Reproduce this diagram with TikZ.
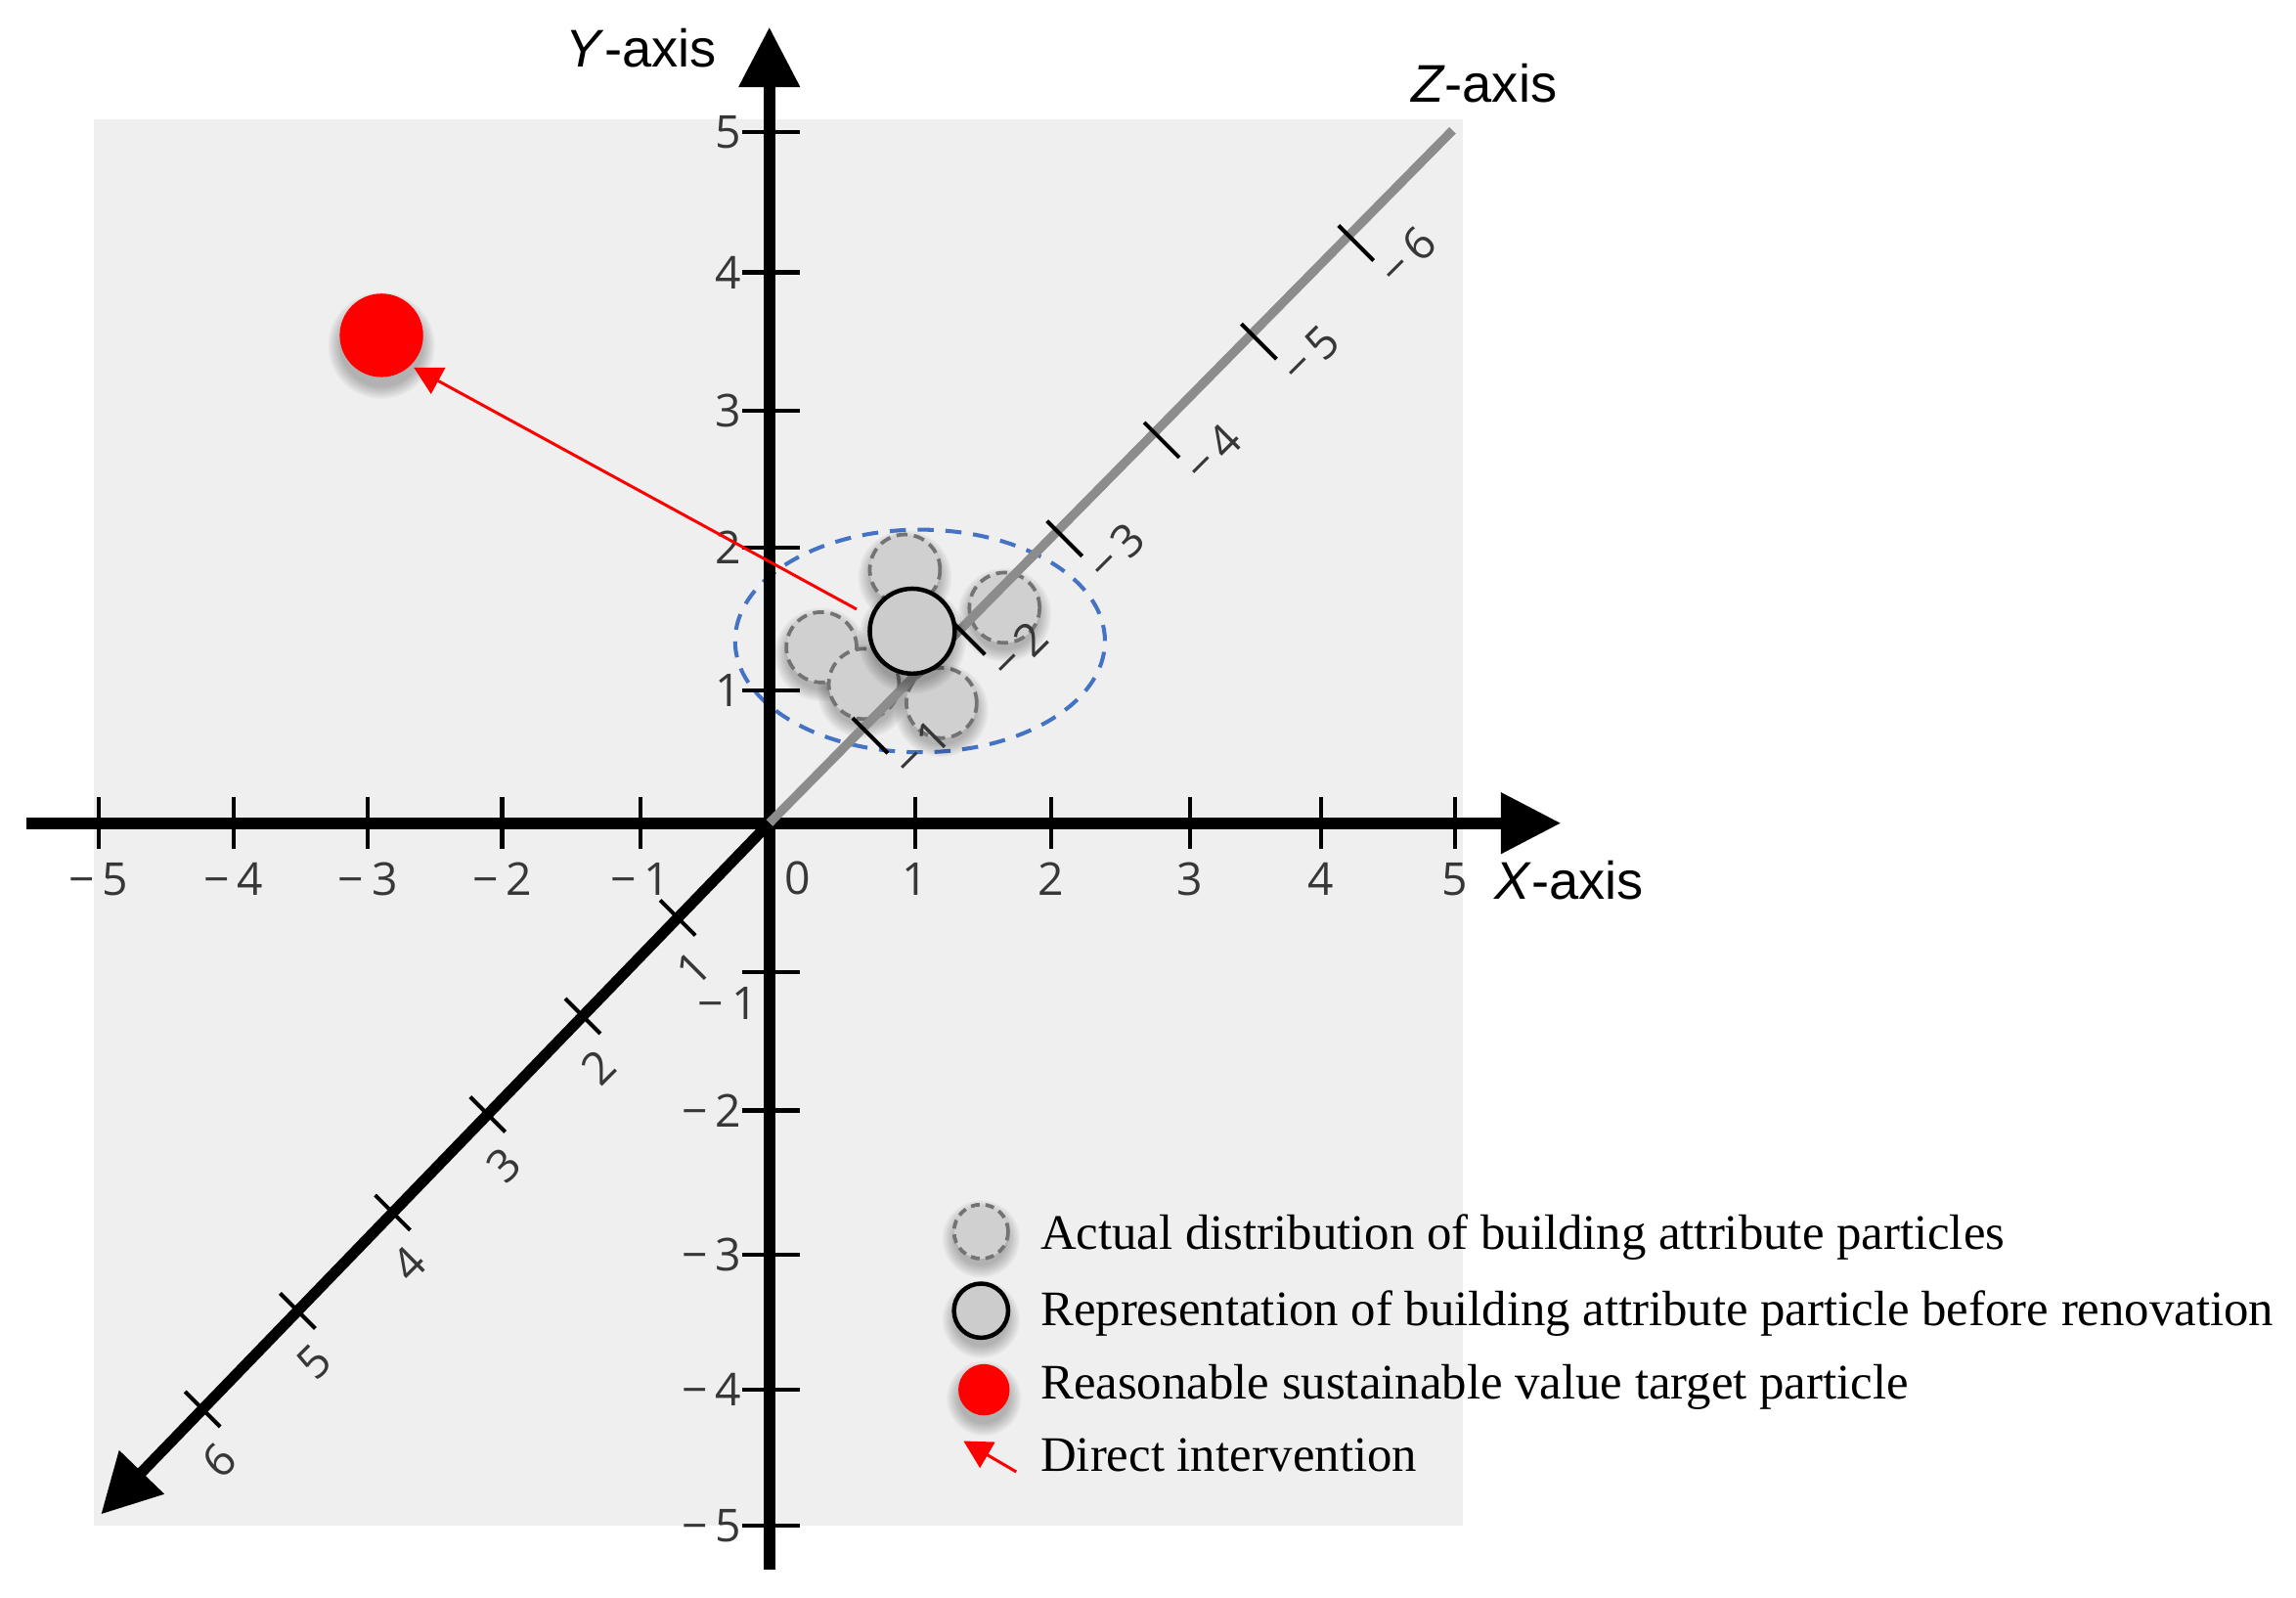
\documentclass[tikz,border=0pt]{standalone}
\usepackage{fontspec}
\setmainfont{Liberation Serif}
\newfontfamily\axisfont{Liberation Sans}
\newfontfamily\tickfont{Open Sans}
\usetikzlibrary{arrows.meta,calc}
\definecolor{bggray}{RGB}{239,239,239}
\definecolor{zgray}{RGB}{140,140,140}
\definecolor{partfill}{RGB}{208,208,208}
\definecolor{partedge}{RGB}{115,115,115}
\definecolor{repfill}{RGB}{204,204,204}
\definecolor{ellblue}{RGB}{68,114,196}
\definecolor{tickcol}{RGB}{55,55,55}
\definecolor{redc}{RGB}{255,0,0}
\newcommand\softshadow[3]{%
  \foreach \kk in {0,...,6}{%
    \fill[black,opacity=0.04] ([yshift=-#3]#1) circle[radius=#2+\kk*0.13mm];}}
\begin{document}
\begin{tikzpicture}[x=0.1mm,y=-0.1mm,
  axisline/.style={line width=0.78mm,black},
  axhead/.style={-{Triangle[length=4.1mm,width=4mm]}},
  tickline/.style={line width=0.27mm,black},
  ticklab/.style={font=\tickfont\fontsize{8.8pt}{10pt}\selectfont,text=tickcol,inner sep=0pt},
  zlab/.style={ticklab,rotate=45},
  axislab/.style={font=\axisfont\fontsize{10.3pt}{12pt}\selectfont,inner sep=0pt},
  legtext/.style={font=\fontsize{9.65pt}{12pt}\selectfont,inner sep=0pt,anchor=base west},
  particle/.style={circle,inner sep=0pt,minimum size=4.8mm,fill=partfill,draw=partedge,line width=0.25mm,dash pattern=on 0.75mm off 0.45mm},
  repres/.style={circle,inner sep=0pt,minimum size=5.8mm,fill=repfill,draw=black,line width=0.3mm},
  target/.style={circle,inner sep=0pt,minimum size=5.7mm,fill=redc},
  redarrow/.style={redc,line width=0.2mm,-{Triangle[length=1.9mm,width=2mm]}}
]
\useasboundingbox (0,0) rectangle (1568,1091);
% background panel
\fill[bggray] (64,81.3) rectangle (998.7,1041.8);

% dashed ellipse
\draw[ellblue,line width=0.27mm,dash pattern=on 1.1mm off 0.8mm] (628.3,437.7) ellipse [x radius=12.63mm, y radius=7.6mm];

% X and Y axes
\coordinate (O) at (525.4,562.1);
\coordinate (xs) at (18,562.1);
\coordinate (xe) at (1066,562.1);
\coordinate (ys) at (525.4,1071.6);
\coordinate (ye) at (525.4,18.5);
\draw[axisline,axhead] (xs) -- (xe);
\draw[axisline,axhead] (ys) -- (ye);

% X ticks
\foreach \x/\l [count=\i] in {67.3/{−\,5},159.7/{−\,4},251.3/{−\,3},342.9/{−\,2},437.4/{−\,1},625.2/1,717.7/2,812.4/3,902.3/4,993.7/5}{
  \draw[tickline] (\x,544.5) -- (\x,579.5);
  \node[ticklab,anchor=base] (xl\i) at (\x,611.5) {\l};
}
\node[ticklab,anchor=base] (xl0) at (545,610.5) {0};

% Y ticks
\foreach \y/\l [count=\i] in {90/5,186/4,280.5/3,374/2,471.6/1,758.3/{−\,2},856.5/{−\,3},949/{−\,4},1041.8/{−\,5}}{
  \draw[tickline] (507,\y) -- (546,\y);
  \node[ticklab,anchor=east] (yl\i) at (507,\y) {\l};
}
\draw[tickline] (507,664) -- (546,664);
\node[ticklab,anchor=east] (ylm1) at (518,685) {−\,1};

% axis labels
\node[axislab,anchor=base west] (xlab) at (1020,614) {\textit{X}-axis};
\node[axislab,anchor=base east] (ylab) at (490,46) {\textit{Y}-axis};
\node[axislab,anchor=base west] (zlab) at (963,70) {\textit{Z}-axis};

% actual particles
\softshadow{618,389}{2.4mm}{0.5mm}
\softshadow{686,415}{2.4mm}{0.5mm}
\softshadow{561,442}{2.4mm}{0.5mm}
\softshadow{590,467}{2.4mm}{0.5mm}
\softshadow{643,480}{2.4mm}{0.5mm}
\node[particle] (p1) at (618,389) {};
\node[particle] (p2) at (686,415) {};
\node[particle] (p3) at (561,442) {};
\node[particle] (p4) at (590,467) {};
\node[particle] (p5) at (643,480) {};

% Z axis
\coordinate (ZE) at (992,89);
\coordinate (ZL) at (69,1034);
\draw[zgray,line width=0.62mm] (O) -- (ZE);
\draw[line width=0.74mm,-{Triangle[length=4mm,width=4.1mm]}] (O) -- (ZL);
\foreach \k in {1,...,6}{
  \pgfmathsetmacro\zt{0.137+0.1422*(\k-1)}
  \coordinate (zu\k) at ($(O)!\zt!(ZE)$);
  \coordinate (zl\k) at ($(O)!\zt!(ZL)$);
  \draw[tickline] ($(zu\k)+(-7,-7)$) -- ($(zu\k)+(17,17)$);
  \draw[tickline] ($(zl\k)+(-12,-12)$) -- ($(zl\k)+(12,12)$);
  \node[zlab] (zul\k) at ($(zu\k)+(40,14)$) {−\,\k};
  \node[zlab] (zll\k) at ($(zl\k)+(11,35)$) {\k};
}

% representation particle
\softshadow{623,431}{2.9mm}{0.6mm}
\node[repres] (rep) at (623,431) {};

% target particle and intervention
\softshadow{260.5,229}{2.85mm}{0.7mm}
\node[target] (tgt) at (260.5,229) {};
\coordinate (ia) at (585,416);
\coordinate (ib) at (282.6,251);
\draw[redarrow] (ia) -- (ib);

% legend
\softshadow{670,841}{1.85mm}{0.5mm}
\node[particle,minimum size=3.7mm,dash pattern=on 0.6mm off 0.4mm] (lg1) at (670,841) {};
\softshadow{670,895}{1.85mm}{0.6mm}
\node[repres,minimum size=3.7mm] (lg2) at (670,895) {};
\softshadow{672,949}{1.75mm}{0.6mm}
\node[target,minimum size=3.5mm] (lg3) at (672,949) {};
\coordinate (la) at (694,1005);
\coordinate (lb) at (658,984);
\draw[redarrow] (la) -- (lb);

\node[legtext] (t1) at (710,853) {Actual distribution of building attribute particles};
\node[legtext] (t2) at (710,905) {Representation of building attribute particle before renovation};
\node[legtext] (t3) at (710,955) {Reasonable sustainable value target particle};
\node[legtext] (t4) at (710,1005) {Direct intervention};
\end{tikzpicture}
\end{document}
